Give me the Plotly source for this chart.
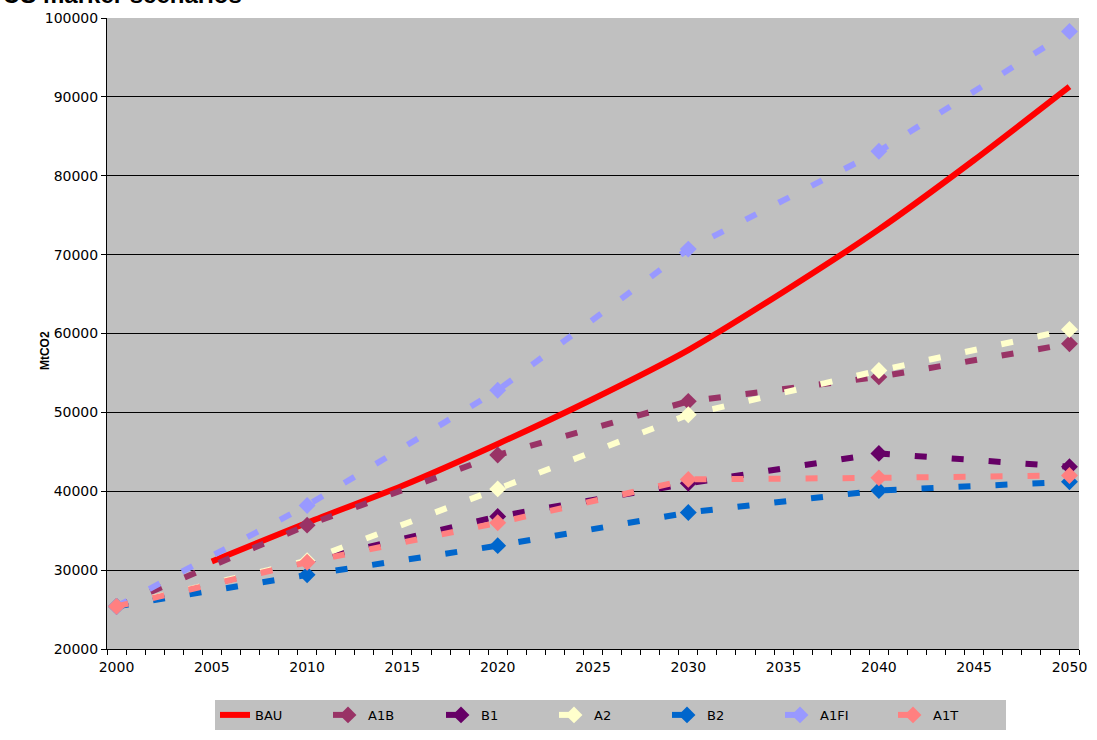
import plotly.graph_objects as go

# Decadal marker-scenario emissions (MtCO2)
decades = [2000, 2010, 2020, 2030, 2040, 2050]
a1b = [25400, 35700, 44600, 51400, 54500, 58700]
b1 = [25400, 31100, 36800, 41000, 44800, 43100]
a2 = [25400, 31200, 40300, 49700, 55300, 60500]
b2 = [25400, 29400, 33100, 37300, 40100, 41200]
a1fi = [25400, 38200, 52800, 70700, 83100, 98300]
a1t = [25400, 31000, 36000, 41500, 41700, 42000]

# Business-as-usual path
bau_years = [2005, 2010, 2015, 2020, 2025, 2030, 2035, 2040, 2045, 2050]
bau = [31100, 36000, 40700, 46000, 51700, 57900, 65300, 73200, 82000, 91300]

first_year, last_year = 2000, 2050
label_years = list(range(first_year, last_year + 1, 5))
y_ticks = list(range(20000, 100001, 10000))

scenarios = [
    ("A1B", a1b, "#993366"),
    ("B1", b1, "#660066"),
    ("A2", a2, "#FFFFCC"),
    ("B2", b2, "#0066CC"),
    ("A1FI", a1fi, "#9999FF"),
    ("A1T", a1t, "#FF8080"),
]

fig = go.Figure()

fig.add_trace(go.Scatter(
    x=bau_years, y=bau, name="BAU", mode="lines",
    line=dict(color="#FF0000", width=6, shape="spline", smoothing=0.6),
))

for name, vals, color in scenarios:
    fig.add_trace(go.Scatter(
        x=decades, y=vals, name=name, mode="lines+markers",
        line=dict(color=color, width=6, dash="12px,25px"),
        marker=dict(symbol="diamond", size=13, color=color),
    ))

axis_font = dict(family="DejaVu Sans, Arial, sans-serif", size=14, color="black")

fig.update_layout(
    width=1097, height=740,
    margin=dict(l=107, r=10, t=17, b=82),
    paper_bgcolor="white",
    plot_bgcolor="#C0C0C0",
    showlegend=True,
    legend=dict(
        orientation="h", x=0.518, y=-0.1045, xanchor="center", yanchor="middle",
        bgcolor="#C0C0C0", font=dict(family="DejaVu Sans, Arial, sans-serif", size=13, color="black"),
        entrywidth=68, traceorder="normal",
    ),
    xaxis=dict(
        range=[first_year - 0.5, last_year + 0.5],
        tickmode="array", tickvals=label_years, ticktext=[str(y) for y in label_years],
        ticks="outside", ticklen=5, tickcolor="rgba(0,0,0,0)",
        showgrid=False, zeroline=False,
        showline=True, linecolor="black", linewidth=1,
        tickfont=axis_font,
        minor=dict(
            tickmode="array",
            tickvals=[y - 0.5 for y in range(first_year, last_year + 2)],
            ticks="outside", ticklen=5, tickcolor="black", tickwidth=1, showgrid=False,
        ),
    ),
    yaxis=dict(
        range=[20000, 100000],
        tickmode="array", tickvals=y_ticks, ticktext=[str(v) for v in y_ticks],
        ticks="outside", ticklen=5, tickcolor="black",
        showgrid=True, gridcolor="black", gridwidth=1,
        zeroline=False, showline=True, linecolor="black", linewidth=1,
        tickfont=axis_font,
    ),
    annotations=[
        dict(text="<b>MtCO2</b>", xref="paper", yref="paper", x=-0.0735, y=0.473,
             textangle=-90, showarrow=False,
             font=dict(family="Liberation Sans, Arial, sans-serif", size=12, color="black")),
        dict(text="<b>US marker scenarios</b>", xref="paper", yref="paper",
             x=-107 / 980, y=1.062, xanchor="left", yanchor="top", showarrow=False,
             font=dict(family="Liberation Sans, Arial, sans-serif", size=24, color="black")),
    ],
)

fig.write_html("out.html")
